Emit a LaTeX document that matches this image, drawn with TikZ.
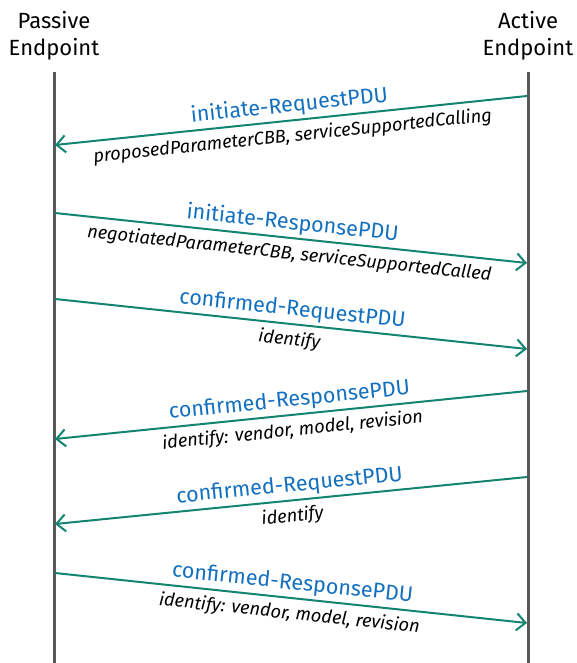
\documentclass[tikz,border=0pt]{standalone}
\usepackage{fontspec}
\setmainfont{Fira Sans}
\usetikzlibrary{arrows.meta}
\definecolor{lifegray}{HTML}{585858}
\definecolor{msgteal}{HTML}{13846F}
\definecolor{pdublue}{HTML}{1370C0}
\tikzset{
  header/.style={align=center, font=\fontsize{22}{27}\selectfont, text=black, inner sep=0pt},
  lifeline/.style={draw=lifegray, line width=3pt},
  msg/.style={draw=msgteal, line width=2pt, -{Straight Barb[length=9pt,width=17pt,line width=2pt]}},
  pdu/.style={sloped, above, midway, inner sep=3pt, text=pdublue, font=\fontsize{21.5}{24}\selectfont},
  param/.style={sloped, below, midway, inner sep=6pt, text=black, font=\itshape\fontsize{18.2}{21}\selectfont},
}
\begin{document}
\begin{tikzpicture}[x=1pt, y=-1pt]
  \useasboundingbox (0,0) rectangle (577,663);
  % endpoint headers
  \node[header] (passive) at (54,36) {Passive\\Endpoint};
  \node[header] (active) at (528,36) {Active\\Endpoint};
  % lifelines
  \coordinate (ptop) at (54,72);
  \coordinate (pbot) at (54,663);
  \coordinate (atop) at (528,72);
  \coordinate (abot) at (528,663);
  \draw[lifeline] (ptop) -- (pbot);
  \draw[lifeline] (atop) -- (abot);
  % message end points on the lifelines
  \coordinate (a1) at (527,96);  \coordinate (p1) at (55,145);
  \coordinate (p2) at (55,213);  \coordinate (a2) at (527,263);
  \coordinate (p3) at (55,299);  \coordinate (a3) at (527,349);
  \coordinate (a4) at (527,391); \coordinate (p4) at (55,439);
  \coordinate (a5) at (527,477); \coordinate (p5) at (55,524);
  \coordinate (p6) at (55,573);  \coordinate (a6) at (527,623);
  % messages
  \draw[msg] (a1) -- (p1)
    node[pdu] (m1) {initiate-RequestPDU}
    node[param] (d1) {proposedParameterCBB, serviceSupportedCalling};
  \draw[msg] (p2) -- (a2)
    node[pdu] (m2) {initiate-ResponsePDU}
    node[param] (d2) {negotiatedParameterCBB, serviceSupportedCalled};
  \draw[msg] (p3) -- (a3)
    node[pdu] (m3) {confirmed-RequestPDU}
    node[param] (d3) {identify};
  \draw[msg] (a4) -- (p4)
    node[pdu] (m4) {confirmed-ResponsePDU}
    node[param] (d4) {identify: vendor, model, revision};
  \draw[msg] (a5) -- (p5)
    node[pdu] (m5) {confirmed-RequestPDU}
    node[param] (d5) {identify};
  \draw[msg] (p6) -- (a6)
    node[pdu] (m6) {confirmed-ResponsePDU}
    node[param] (d6) {identify: vendor, model, revision};
\end{tikzpicture}
\end{document}
